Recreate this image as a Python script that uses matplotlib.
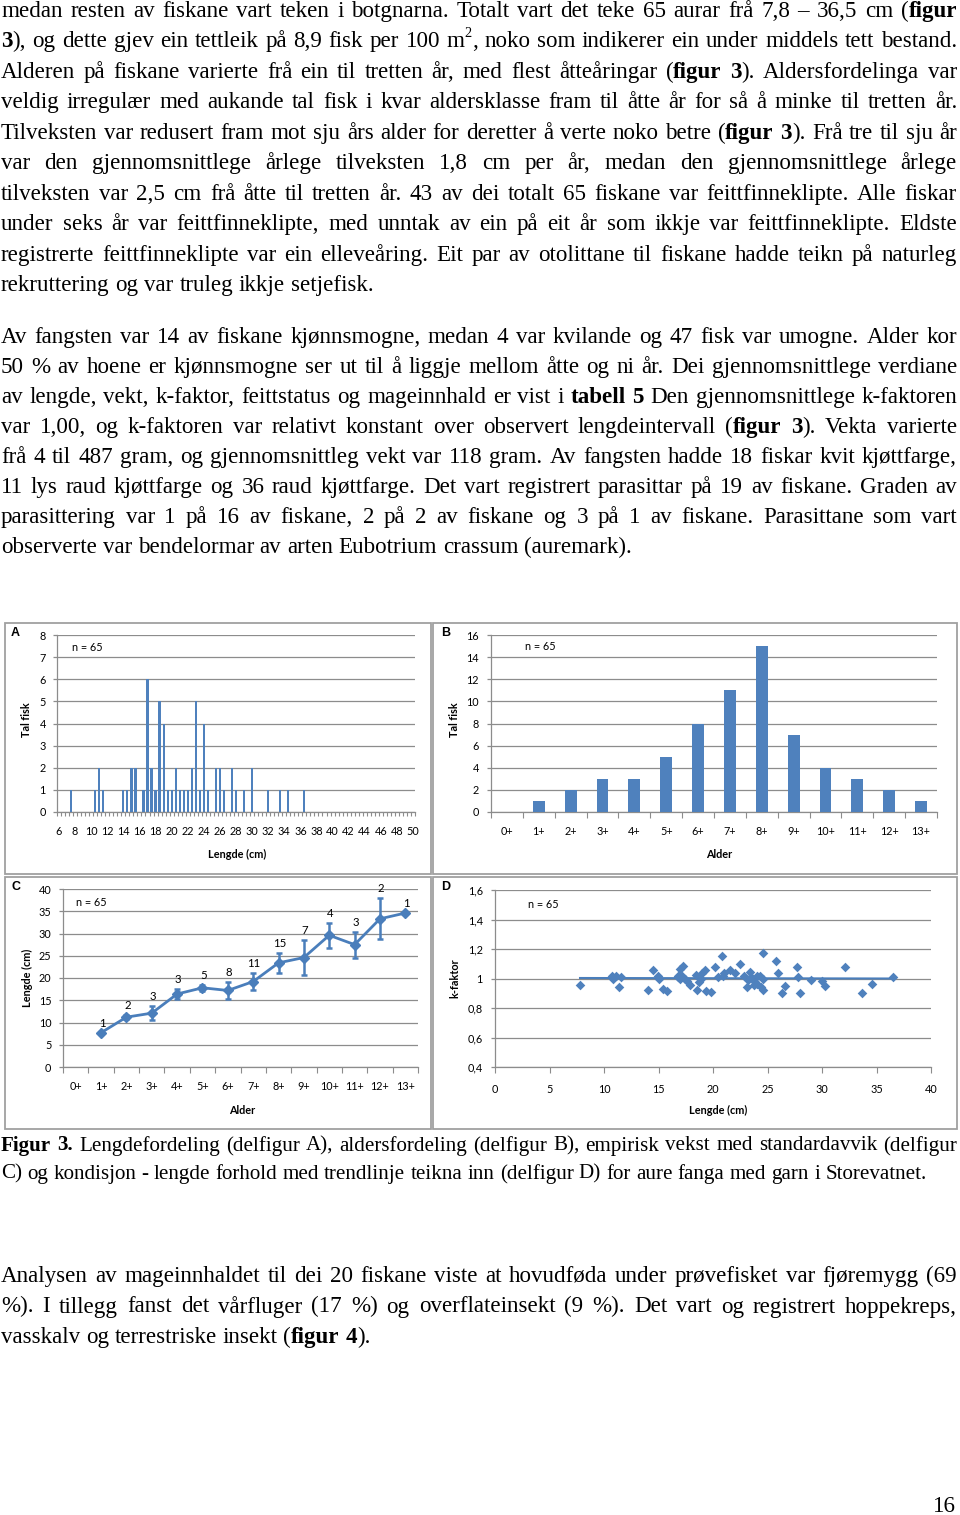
import matplotlib
matplotlib.use('Agg')
import matplotlib.pyplot as plt
import numpy as np
from matplotlib.font_manager import FontProperties
from matplotlib.patches import Rectangle
from matplotlib.ticker import FuncFormatter

# ---------------- chart data ----------------
A_len = [7.5, 10.5, 11.0, 11.5, 14.0, 14.5, 15.0, 15.5, 16.5, 17.0, 17.5, 18.0,
         18.5, 19.0, 19.5, 20.0, 20.5, 21.0, 21.5, 22.0, 22.5, 23.0, 23.5, 24.0,
         24.5, 25.5, 26.0, 26.5, 27.5, 28.0, 29.0, 30.0, 32.0, 33.5, 34.5, 36.5]
A_cnt = [1, 1, 2, 1, 1, 1, 2, 2, 1, 6, 2, 1,
         5, 4, 1, 1, 2, 1, 1, 1, 2, 5, 1, 4,
         1, 2, 2, 1, 2, 1, 1, 2, 1, 1, 1, 1]
A_ticks = list(range(6, 51, 2))

B_ages = ['0+', '1+', '2+', '3+', '4+', '5+', '6+', '7+', '8+', '9+', '10+', '11+', '12+', '13+']
B_cnt = [0, 1, 2, 3, 3, 5, 8, 11, 15, 7, 4, 3, 2, 1]

C_ages = ['1+', '2+', '3+', '4+', '5+', '6+', '7+', '8+', '9+', '10+', '11+', '12+', '13+']
C_mean = [7.7, 11.2, 12.1, 16.4, 17.8, 17.2, 19.2, 23.4, 24.6, 29.6, 27.5, 33.3, 34.6]
C_sd = [0.0, 0.5, 1.6, 1.2, 0.7, 1.9, 2.0, 2.2, 3.9, 2.8, 2.9, 4.6, 0.0]
C_n = [1, 2, 3, 3, 5, 8, 11, 15, 7, 4, 3, 2, 1]

D_len = [7.8, 10.7, 10.85, 11.1, 11.35, 11.55, 14.05, 14.45, 14.95, 15.0,
         15.45, 15.8, 16.75, 16.8, 16.95, 17.0, 17.15, 17.25, 17.4, 17.6,
         17.85, 18.45, 18.55, 18.7, 18.9, 19.0, 19.25, 19.35, 19.85, 20.2,
         20.5, 20.8, 20.9, 21.05, 21.55, 22.0, 22.5, 22.8, 23.1, 23.2,
         23.35, 23.5, 23.8, 23.85, 24.0, 24.05, 24.3, 24.4, 24.55, 24.6,
         24.6, 25.8, 25.95, 26.3, 26.6, 27.7, 27.8, 28.0, 29.0, 30.0,
         30.3, 32.1, 33.7, 34.6, 36.5]
D_k = [0.955, 1.02, 0.995, 1.02, 0.945, 1.01, 0.925, 1.055, 1.02, 1.0,
       0.93, 0.915, 1.02, 1.01, 1.0, 1.065, 1.02, 1.085, 1.0, 0.985,
       0.955, 1.025, 0.925, 0.975, 1.0, 1.04, 1.055, 0.915, 0.91, 1.08,
       1.01, 1.15, 1.02, 1.04, 1.055, 1.04, 1.1, 1.02, 0.94, 0.99,
       1.045, 1.01, 0.955, 0.975, 1.02, 0.96, 1.015, 0.94, 1.17, 1.0,
       0.92, 1.12, 1.04, 0.905, 0.95, 1.08, 1.01, 0.905, 0.99, 0.985,
       0.95, 1.075, 0.905, 0.96, 1.01]

# ---------------- page text ----------------
P1 = [
    [("medan resten av fiskane vart teken i botgnarna. Totalt vart det teke 65 aurar frå 7,8 – 36,5 cm (", 'n'), ("figur", 'b')],
    [("3", 'b'), ("), og dette gjev ein tettleik på 8,9 fisk per 100 m", 'n'), ("2", 'sup'), (", noko som indikerer ein under middels tett bestand.", 'n')],
    [("Alderen på fiskane varierte frå ein til tretten år, med flest åtteåringar (", 'n'), ("figur 3", 'b'), ("). Aldersfordelinga var", 'n')],
    [("veldig irregulær med aukande tal fisk i kvar aldersklasse fram til åtte år for så å minke til tretten år.", 'n')],
    [("Tilveksten var redusert fram mot sju års alder for deretter å verte noko betre (", 'n'), ("figur 3", 'b'), ("). Frå tre til sju år", 'n')],
    [("var den gjennomsnittlege årlege tilveksten 1,8 cm per år, medan den gjennomsnittlege årlege", 'n')],
    [("tilveksten var 2,5 cm frå åtte til tretten år. 43 av dei totalt 65 fiskane var feittfinneklipte. Alle fiskar", 'n')],
    [("under seks år var feittfinneklipte, med unntak av ein på eit år som ikkje var feittfinneklipte. Eldste", 'n')],
    [("registrerte feittfinneklipte var ein elleveåring. Eit par av otolittane til fiskane hadde teikn på naturleg", 'n')],
    [("rekruttering og var truleg ikkje setjefisk.", 'n')],
]
P2 = [
    [("Av fangsten var 14 av fiskane kjønnsmogne, medan 4 var kvilande og 47 fisk var umogne. Alder kor", 'n')],
    [("50 % av hoene er kjønnsmogne ser ut til å liggje mellom åtte og ni år.  Dei gjennomsnittlege verdiane", 'n')],
    [("av lengde, vekt, k-faktor, feittstatus og mageinnhald er vist i ", 'n'), ("tabell 5", 'b'), (" Den gjennomsnittlege k-faktoren", 'n')],
    [("var 1,00, og k-faktoren var relativt konstant over observert lengdeintervall (", 'n'), ("figur 3", 'b'), (").  Vekta varierte", 'n')],
    [("frå 4 til 487 gram, og gjennomsnittleg vekt var 118 gram. Av fangsten hadde 18 fiskar kvit kjøttfarge,", 'n')],
    [("11 lys raud kjøttfarge og 36 raud kjøttfarge. Det vart registrert parasittar på 19 av fiskane. Graden av", 'n')],
    [("parasittering var 1 på 16 av fiskane, 2 på 2 av fiskane og 3 på 1 av fiskane. Parasittane som vart", 'n')],
    [("observerte var bendelormar av arten Eubotrium crassum (auremark).", 'n')],
]
CAP = [
    [("Figur 3.", 'b'), (" Lengdefordeling (delfigur A), aldersfordeling (delfigur B), empirisk vekst med standardavvik (delfigur", 'n')],
    [("C) og kondisjon - lengde forhold med trendlinje teikna inn (delfigur D) for aure fanga med garn i Storevatnet.", 'n')],
]
P3 = [
    [("Analysen av mageinnhaldet til dei 20 fiskane viste at hovudføda under prøvefisket var fjøremygg (69", 'n')],
    [("%). I tillegg fanst det vårfluger (17 %) og overflateinsekt (9 %). Det vart og registrert hoppekreps,", 'n')],
    [("vasskalv og terrestriske insekt (", 'n'), ("figur 4", 'b'), (").", 'n')],
]

# ---------------- figure ----------------
W, H = 960, 1515
plt.rcParams['font.family'] = ['Lato', 'DejaVu Sans']
fig = plt.figure(figsize=(W / 100, H / 100), dpi=100)
fig.patch.set_facecolor('white')
renderer = fig.canvas.get_renderer()

SERIF = 'Liberation Serif'
FS = 16.6
CAPFS = 15.1


def fx(x):
    return x / W


def fy(y):
    return 1 - y / H


def twidth(s, size, bold=False):
    prop = FontProperties(family=SERIF, size=size, weight='bold' if bold else 'normal')
    w, h, d = renderer.get_text_width_height_descent(s, prop, ismath=False)
    return w


def piece_w(p, st, size):
    if st == 'sup':
        return twidth(p, size * 0.62)
    return twidth(p, size, st == 'b')


def tokenize(segs):
    words = [[]]
    for text, st in segs:
        parts = text.split(' ')
        for i, p in enumerate(parts):
            if i > 0 and words[-1]:
                words.append([])
            if p:
                words[-1].append((p, st))
    if not words[-1]:
        words.pop()
    return words


def draw_line(segs, yb, justify=True, size=FS, x0=1.0, x1=957.0):
    words = tokenize(segs)

    def measure(sz):
        wl = [sum(piece_w(p, st, sz) for p, st in w) for w in words]
        sp = twidth('n n', sz) - twidth('nn', sz)
        return wl, sp

    wl, space = measure(size)
    n = len(words)
    avail = x1 - x0
    need = sum(wl) + (n - 1) * space * 0.6
    if need > avail:
        size = size * avail / need
        wl, space = measure(size)
    if justify and n > 1:
        gap = (avail - sum(wl)) / (n - 1)
    else:
        gap = space
    x = x0
    for w, ww in zip(words, wl):
        xx = x
        for p, st in w:
            if st == 'sup':
                fig.text(fx(xx), fy(yb - size * 0.45 * 100 / 72), p, fontsize=size * 0.62,
                         family=SERIF, va='baseline', ha='left')
            else:
                fig.text(fx(xx), fy(yb), p, fontsize=size, family=SERIF,
                         fontweight='bold' if st == 'b' else 'normal', va='baseline', ha='left')
            xx += piece_w(p, st, size)
        x += ww + gap


for i, ln in enumerate(P1):
    draw_line(ln, 16.7 + 30.5 * i, justify=(i < len(P1) - 1))
for i, ln in enumerate(P2):
    draw_line(ln, 342.7 + 30.1 * i, justify=(i < len(P2) - 1))
for i, ln in enumerate(CAP):
    draw_line(ln, 1150.5 + 28.3 * i, justify=(i < len(CAP) - 1), size=CAPFS)
for i, ln in enumerate(P3):
    draw_line(ln, 1282 + 30.5 * i, justify=(i < len(P3) - 1))
fig.text(fx(956), fy(1512), "16", fontsize=FS, family=SERIF, ha='right', va='baseline')

# ---------------- charts ----------------
BLUE = '#4F81BD'
LINEC = '#4A7EBB'
GRID = '#8C8C8C'
TFS = 7.8


def px_axes(l, t, r, b):
    return fig.add_axes([l / W, 1 - b / H, (r - l) / W, (b - t) / H])


def style(ax, ypad=5):
    for s in ('top', 'right'):
        ax.spines[s].set_visible(False)
    for s in ('left', 'bottom'):
        ax.spines[s].set_color(GRID)
        ax.spines[s].set_linewidth(0.9)
    ax.set_facecolor('none')
    ax.set_axisbelow(True)
    ax.yaxis.grid(True, color=GRID, linewidth=0.9)
    ax.tick_params(axis='y', which='major', direction='out', length=3, width=0.9,
                   color=GRID, labelsize=TFS, pad=ypad)


# Panel A
axA = px_axes(57, 635, 415, 812)
style(axA)
axA.bar(A_len, A_cnt, width=0.27, color=BLUE, zorder=3)
axA.set_xlim(5.75, 50.25)
axA.set_ylim(0, 8)
axA.set_yticks(range(0, 9))
axA.set_xticks(A_ticks)
axA.set_xticks(np.arange(5.75, 50.3, 0.5), minor=True)
axA.tick_params(axis='x', which='major', length=0, labelsize=TFS, pad=10.2)
axA.tick_params(axis='x', which='minor', length=3, width=0.8, color=GRID)

# Panel B
axB = px_axes(491, 635, 937, 812)
style(axB, ypad=5.8)
xB = np.arange(len(B_ages))
axB.bar(xB, B_cnt, width=0.37, color=BLUE, zorder=3)
axB.set_xlim(-0.5, len(B_ages) - 0.5)
axB.set_ylim(0, 16)
axB.set_yticks(range(0, 17, 2))
axB.set_xticks(xB)
axB.set_xticklabels(B_ages)
axB.set_xticks(np.arange(-0.5, len(B_ages), 1), minor=True)
axB.tick_params(axis='x', which='major', length=0, labelsize=TFS, pad=10.2)
axB.tick_params(axis='x', which='minor', length=4, width=0.8, color=GRID)

# Panel C
axC = px_axes(63, 889, 418, 1067)
style(axC, ypad=5.3)
xC = [B_ages.index(a) for a in C_ages]
axC.errorbar(xC, C_mean, yerr=C_sd, color=LINEC, lw=2.0, marker='D', ms=5.5,
             capsize=2.2, capthick=1.8, elinewidth=1.8, zorder=3)
for x, m, s, n in zip(xC, C_mean, C_sd, C_n):
    axC.annotate(str(n), (x, m + s), xytext=(1, 4), textcoords='offset pixels',
                 ha='center', va='bottom', fontsize=8.2)
axC.set_xlim(-0.5, len(B_ages) - 0.5)
axC.set_ylim(0, 40)
axC.set_yticks(range(0, 41, 5))
axC.set_xticks(range(len(B_ages)))
axC.set_xticklabels(B_ages)
axC.set_xticks(np.arange(-0.5, len(B_ages), 1), minor=True)
axC.tick_params(axis='x', which='major', length=0, labelsize=TFS, pad=10.2)
axC.tick_params(axis='x', which='minor', length=4, width=0.8, color=GRID)

# Panel D
axD = px_axes(495, 890, 931, 1067)
style(axD, ypad=5.8)
axD.scatter(D_len, D_k, marker='D', s=24, color=BLUE, linewidths=0, zorder=3)
coef = np.polyfit(D_len, D_k, 1)
xs = np.array([min(D_len), max(D_len)])
axD.plot(xs, np.polyval(coef, xs), color=LINEC, lw=1.5, zorder=2)
axD.set_xlim(0, 40)
axD.set_ylim(0.4, 1.6)
axD.set_yticks(np.arange(0.4, 1.61, 0.2))
axD.set_xticks(range(0, 41, 5))
comma = FuncFormatter(lambda v, p: f"{round(v, 1):g}".replace('.', ','))
axD.yaxis.set_major_formatter(comma)
axD.tick_params(axis='x', which='major', direction='out', length=4, width=0.8,
                color=GRID, labelsize=TFS, pad=8)

# panel texts
for (x, y, s) in [(15, 633, 'A'), (446, 633, 'B'), (16, 887, 'C'), (446, 887, 'D')]:
    fig.text(fx(x), fy(y), s, fontsize=9, fontweight='bold', family='Liberation Sans',
             ha='center', va='center')
for (x, y) in [(87, 647), (540, 646), (91, 903), (543, 904)]:
    fig.text(fx(x), fy(y), 'n = 65', fontsize=TFS, ha='center', va='center')
for (x, y, s) in [(26, 720, 'Tal fisk'), (455, 720, 'Tal fisk'),
                  (27, 978, 'Lengde (cm)'), (455, 978, 'k-faktor')]:
    fig.text(fx(x), fy(y), s, fontsize=TFS, fontweight='bold', rotation=90,
             ha='center', va='center')
for (x, y, s) in [(237, 854, 'Lengde (cm)'), (719, 854, 'Alder'),
                  (242, 1110, 'Alder'), (718, 1110, 'Lengde (cm)')]:
    fig.text(fx(x), fy(y), s, fontsize=TFS, fontweight='bold', ha='center', va='center')

# panel frames
BORDER = '#A0A0A0'
for (l, t, r, b) in [(5, 623, 431, 874), (433, 623, 957, 874),
                     (5, 877, 431, 1129), (433, 877, 957, 1129)]:
    fig.add_artist(Rectangle((fx(l), fy(b)), (r - l) / W, (b - t) / H,
                             transform=fig.transFigure, fill=False,
                             edgecolor=BORDER, linewidth=1.3))

fig.savefig('out.png', dpi=100)
